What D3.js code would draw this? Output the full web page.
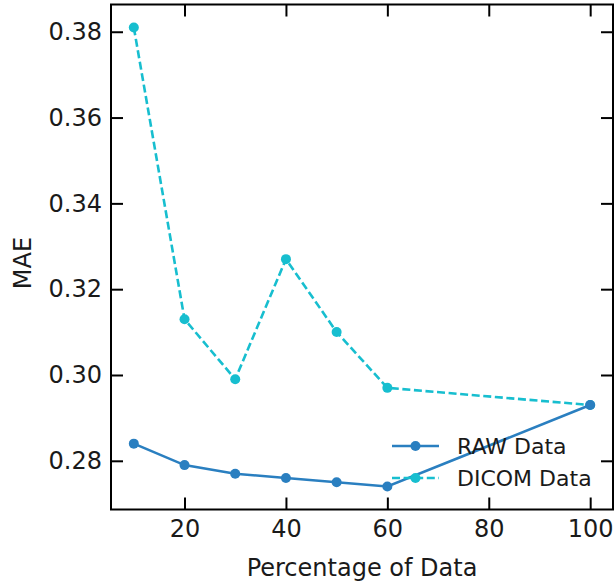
<!DOCTYPE html>
<html>
<head>
<meta charset="utf-8">
<script src="https://cdn.jsdelivr.net/npm/d3@7"></script>
<style>
  html, body { margin: 0; padding: 0; background: #fff; }
  svg { display: block; font-family: "DejaVu Sans", sans-serif; }
</style>
</head>
<body>
<svg id="chart" width="614" height="585"></svg>
<script>
// Share of the training data used (%)
const percentages = [10, 20, 30, 40, 50, 60, 100];
// Mean absolute error per training share
const rawMAE   = [0.284, 0.279, 0.277, 0.276, 0.275, 0.274, 0.293];
const dicomMAE = [0.381, 0.313, 0.299, 0.327, 0.310, 0.297, 0.293];
const xTicks = [20, 40, 60, 80, 100];
const yTicks = [0.28, 0.30, 0.32, 0.34, 0.36, 0.38];
const seriesNames = ["RAW Data", "DICOM Data"];

const series = [
  { name: seriesNames[0], values: rawMAE,   color: "#2a7fc0", dash: null },
  { name: seriesNames[1], values: dicomMAE, color: "#17becf", dash: "8,3.6" }
];

const svg = d3.select("#chart");
const plot = { left: 111, right: 613, top: 4.5, bottom: 509.5 };

// 5% padding around the data extent on both axes
function padded(ext) {
  const m = (ext[1] - ext[0]) * 0.05;
  return [ext[0] - m, ext[1] + m];
}
const allY = rawMAE.concat(dicomMAE);
const x = d3.scaleLinear().domain(padded(d3.extent(percentages))).range([plot.left, plot.right]);
const y = d3.scaleLinear().domain(padded(d3.extent(allY))).range([plot.bottom, plot.top]);

const tickLen = 12;
const tickFont = 24;

// Axes with inward ticks on all four sides
const gx = svg.append("g").attr("transform", `translate(0,${plot.bottom})`)
  .call(d3.axisBottom(x).tickValues(xTicks).tickSizeInner(-tickLen).tickSizeOuter(0).tickPadding(10).tickFormat(d3.format("d")));
const gxTop = svg.append("g").attr("transform", `translate(0,${plot.top})`)
  .call(d3.axisTop(x).tickValues(xTicks).tickSizeInner(-tickLen).tickSizeOuter(0).tickFormat(""));
const gy = svg.append("g").attr("transform", `translate(${plot.left},0)`)
  .call(d3.axisLeft(y).tickValues(yTicks).tickSizeInner(-tickLen).tickSizeOuter(0).tickPadding(9).tickFormat(d3.format(".2f")));
const gyRight = svg.append("g").attr("transform", `translate(${plot.right},0)`)
  .call(d3.axisRight(y).tickValues(yTicks).tickSizeInner(-tickLen).tickSizeOuter(0).tickFormat(""));

[gx, gxTop, gy, gyRight].forEach(g => {
  g.select(".domain").remove();
  g.selectAll(".tick line").attr("stroke", "#000").attr("stroke-width", 2);
  g.selectAll(".tick text").attr("fill", "#1a1a1a").style("font-size", tickFont + "px")
    .style("font-family", "DejaVu Sans, sans-serif");
});

// Frame
svg.append("rect")
  .attr("x", plot.left).attr("y", plot.top)
  .attr("width", plot.right - plot.left).attr("height", plot.bottom - plot.top)
  .attr("fill", "none").attr("stroke", "#000").attr("stroke-width", 2);

// Lines and markers
const line = d3.line().x((d, i) => x(percentages[i])).y(d => y(d));
series.slice().reverse().forEach(s => {
  svg.append("path")
    .datum(s.values)
    .attr("d", line)
    .attr("fill", "none")
    .attr("stroke", s.color)
    .attr("stroke-width", 2.6)
    .attr("stroke-dasharray", s.dash);
  svg.append("g").selectAll("circle")
    .data(s.values)
    .join("circle")
    .attr("cx", (d, i) => x(percentages[i]))
    .attr("cy", d => y(d))
    .attr("r", 5)
    .attr("fill", s.color);
});

// Axis titles
svg.append("text")
  .attr("x", 362).attr("y", 576)
  .attr("text-anchor", "middle")
  .style("font-size", "24px")
  .attr("fill", "#1a1a1a")
  .text("Percentage of Data");
svg.append("text")
  .attr("transform", "translate(31,263) rotate(-90)")
  .attr("text-anchor", "middle")
  .style("font-size", "24px")
  .attr("fill", "#1a1a1a")
  .text("MAE");

// Legend
const legend = svg.append("g").attr("transform", "translate(392,446)");
series.forEach((s, i) => {
  const row = legend.append("g").attr("transform", `translate(0,${i * 32})`);
  row.append("line")
    .attr("x1", 0).attr("x2", 47).attr("y1", 0).attr("y2", 0)
    .attr("stroke", s.color).attr("stroke-width", 2.6)
    .attr("stroke-dasharray", s.dash);
  row.append("circle").attr("cx", 23.5).attr("cy", 0).attr("r", 5).attr("fill", s.color);
  row.append("text")
    .attr("x", 65).attr("y", 0).attr("dy", "0.35em")
    .style("font-size", "22px")
    .attr("fill", "#1a1a1a")
    .text(s.name);
});
</script>
</body>
</html>
